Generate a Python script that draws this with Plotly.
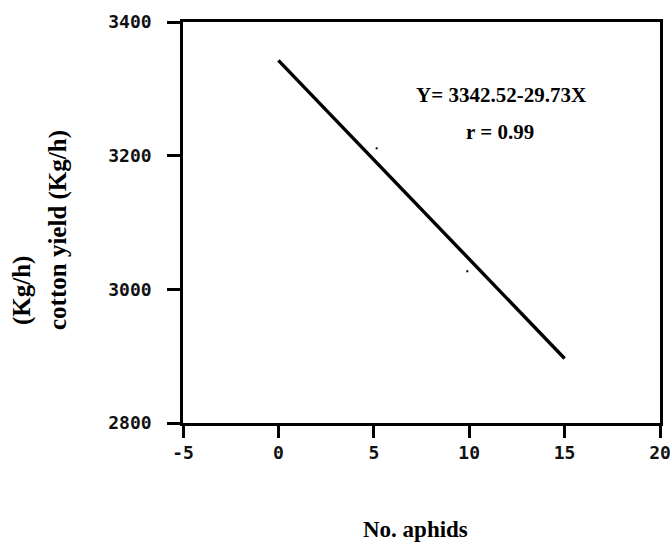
import plotly.graph_objects as go

# Data
aphids = [0, 15]
yield_kg = [3342.52, 2896.57]
stray_x = [5.15, 9.9]
stray_y = [3211, 3027]

x_ticks = [-5, 0, 5, 10, 15, 20]
y_ticks = [2800, 3000, 3200, 3400]

equation_text = "Y= 3342.52-29.73X"
r_text = "r = 0.99"

W, H = 670, 545
L, R, T, B = 183, 10, 22, 122
PW, PH = W - L - R, H - T - B

fig = go.Figure()
fig.add_trace(go.Scatter(x=aphids, y=yield_kg, mode="lines",
                         line=dict(color="black", width=3.4), showlegend=False))
fig.add_trace(go.Scatter(x=stray_x, y=stray_y, mode="markers",
                         marker=dict(color="black", size=2, symbol="square"),
                         showlegend=False))

tickfont = dict(family="DejaVu Sans Mono", size=18, color="#111", weight="bold")

fig.update_layout(
    width=W, height=H,
    margin=dict(l=L, r=R, t=T, b=B, autoexpand=False),
    paper_bgcolor="white", plot_bgcolor="white",
    xaxis=dict(range=[-5, 20], tickvals=x_ticks, ticktext=[str(v) for v in x_ticks],
               showgrid=False, zeroline=False, showline=True, linecolor="black",
               linewidth=2.5, mirror=True, ticks="outside", ticklen=12, tickwidth=2.5,
               tickcolor="black", tickfont=tickfont, ticklabelstandoff=0,
               ticklabeloverflow="allow"),
    yaxis=dict(range=[2800, 3400], tickvals=y_ticks, ticktext=[str(v) for v in y_ticks],
               showgrid=False, zeroline=False, showline=True, linecolor="black",
               linewidth=2.5, mirror=True, ticks="outside", ticklen=13, tickwidth=2.5,
               tickcolor="black", tickfont=tickfont, ticklabelstandoff=12,
               ticklabeloverflow="allow"),
)

# texts placed by their pixel centres in the figure
anns = [
    dict(x=501, y=95, text=equation_text, angle=0, size=21),
    dict(x=500, y=132, text=r_text, angle=0, size=21),
    dict(x=415, y=529, text="No. aphids", angle=0, size=23),
    dict(x=22, y=291, text="(Kg/h)", angle=-90, size=25),
    dict(x=58, y=230, text="cotton yield (Kg/h)", angle=-90, size=25),
]
for a in anns:
    fig.add_annotation(
        x=(a["x"] - L) / PW, y=1 - (a["y"] - T) / PH, xref="paper", yref="paper",
        text=a["text"], textangle=a["angle"], showarrow=False,
        xanchor="center", yanchor="middle",
        font=dict(family="Liberation Serif", size=a["size"], color="black", weight="bold"),
    )

fig.write_html("out.html", config={"displayModeBar": False},
               post_script="document.body.style.margin='0px';")
